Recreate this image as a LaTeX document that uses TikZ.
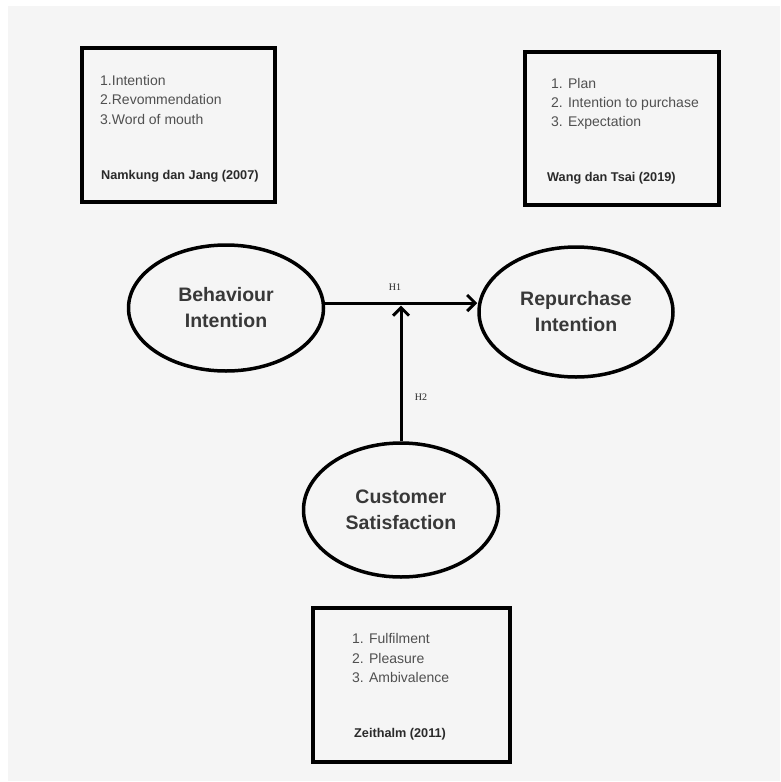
\documentclass[tikz,border=0pt]{standalone}
\usepackage{fontspec}
\setmainfont{Liberation Sans}
\newfontfamily\hypfont{Liberation Serif}
\usetikzlibrary{shapes.geometric,arrows.meta,calc}
\definecolor{bg}{HTML}{F5F5F5}
\definecolor{listtxt}{HTML}{505050}
\definecolor{citetxt}{HTML}{2A2A2A}
\definecolor{elltxt}{HTML}{383838}
\begin{document}
\begin{tikzpicture}[x=1pt,y=-1pt,
  refbox/.style={draw=black,line width=3.5pt,inner sep=0pt},
  oval/.style={ellipse,draw=black,line width=3.5pt,inner sep=0pt,align=center,
    font=\fontsize{19.5}{26}\selectfont\bfseries,text=elltxt},
  item/.style={anchor=base west,inner sep=0pt,font=\fontsize{14}{16}\selectfont,text=listtxt},
  cite/.style={anchor=base west,inner sep=0pt,font=\fontsize{12.7}{15}\selectfont\bfseries,text=citetxt},
  hyp/.style={inner sep=0pt,font=\hypfont\fontsize{10}{12}\selectfont,text=black!85},
  arr/.style={line width=3pt,-{Straight Barb[length=8pt,width=16pt,line width=3pt]}}]
\useasboundingbox (0,0) rectangle (780,782);
\fill[bg] (8,6) rectangle (780,781);

% reference boxes
\node[refbox,minimum width=193pt,minimum height=154pt] (box1) at (178.5,125) {};
\node[refbox,minimum width=194pt,minimum height=153pt] (box2) at (622,128.5) {};
\node[refbox,minimum width=197pt,minimum height=154pt] (box3) at (411.5,685) {};

\node[item] (a1) at (100,85) {1.Intention};
\node[item] (a2) at (100,104) {2.Revommendation};
\node[item] (a3) at (100,124) {3.Word of mouth};
\node[cite] (ac) at (101,179) {Namkung dan Jang (2007)};

\node[item] (b1) at (551,88) {1. Plan};
\node[item] (b2) at (551,107) {2. Intention to purchase};
\node[item] (b3) at (551,126) {3. Expectation};
\node[cite] (bc) at (547,181) {Wang dan Tsai (2019)};

\node[item] (c1) at (352,643) {1. Fulfilment};
\node[item] (c2) at (352,663) {2. Pleasure};
\node[item] (c3) at (352,682) {3. Ambivalence};
\node[cite] (cc) at (354,737) {Zeithalm (2011)};

% constructs
\node[oval,minimum width=195pt,minimum height=126pt] (bi) at (226,308) {Behaviour\\Intention};
\node[oval,minimum width=194pt,minimum height=130pt] (ri) at (576,312) {Repurchase\\Intention};
\node[oval,minimum width=195pt,minimum height=134pt] (cs) at (401,510) {Customer\\Satisfaction};

% connectors
\coordinate (j) at (401,303);
\draw[arr] (j -| bi.east) -- (j -| ri.west);
\draw[arr] (cs.north) -- ($(j)+(0,2.5)$);

\node[hyp] (h1) at (395,287) {H1};
\node[hyp] (h2) at (421,397) {H2};
\end{tikzpicture}
\end{document}
